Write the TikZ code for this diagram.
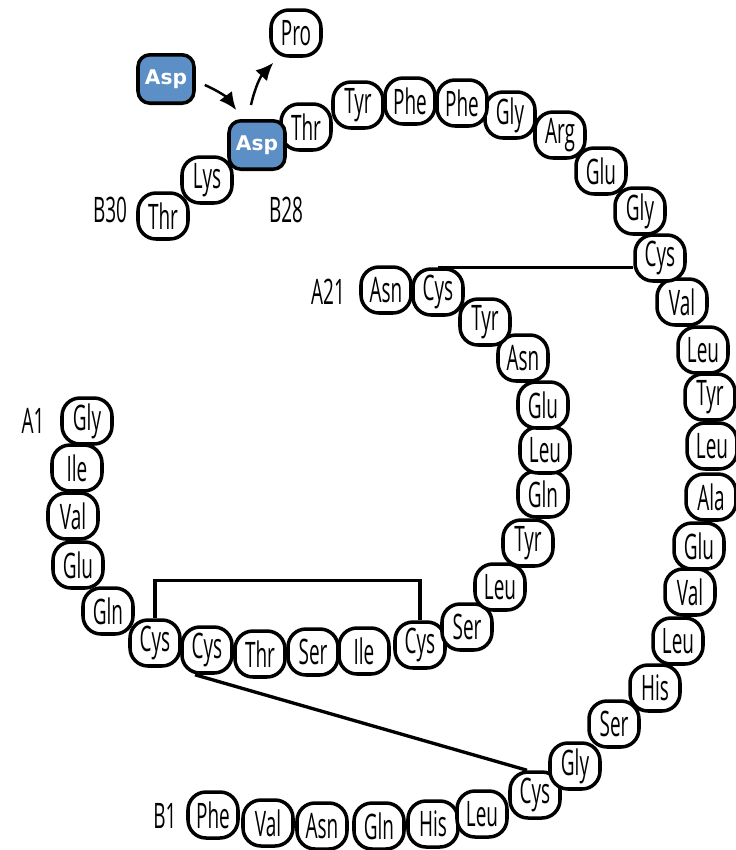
\documentclass[tikz,border=0pt]{standalone}
\usepackage{fontspec}
\setmainfont{Open Sans}[FakeStretch=0.54]
\newfontfamily\mutfont{DejaVu Sans}
\usetikzlibrary{arrows.meta}
\definecolor{aspblue}{RGB}{92,143,198}

\begin{document}
\begin{tikzpicture}[x=0.02cm, y=-0.02cm,
    res/.style={draw, line width=2pt, rounded corners=0.36cm, fill=white, minimum width=1cm, minimum height=0.92cm, inner sep=0pt, font=\fontsize{20}{20}\selectfont},
    mut/.style={res, fill=aspblue, rounded corners=0.24cm, minimum width=1.12cm, minimum height=0.97cm, text=white, font=\mutfont\bfseries\fontsize{11.5}{12}\selectfont},
    tag/.style={font=\fontsize{20}{20}\selectfont},
    bond/.style={line width=1.9pt},
    arr/.style={-{Latex[length=10pt,width=9pt]}, line width=1.4pt}]
    \useasboundingbox (0,0) rectangle (735,850);

    % B chain
    \node[res] at (213,815) (b1) {Phe};
    \node[res] at (268,823) (b2) {Val};
    \node[res] at (322,826) (b3) {Asn};
    \node[res] at (379,826) (b4) {Gln};
    \node[res] at (433,824) (b5) {His};
    \node[res] at (482,814) (b6) {Leu};
    \node[res] at (535,795) (b7) {Cys};
    \node[res] at (575,766) (b8) {Gly};
    \node[res] at (614,724) (b9) {Ser};
    \node[res] at (655,688) (b10) {His};
    \node[res] at (678,641) (b11) {Leu};
    \node[res] at (690,592) (b12) {Val};
    \node[res] at (699,546) (b13) {Glu};
    \node[res] at (711,497) (b14) {Ala};
    \node[res] at (712,446) (b15) {Leu};
    \node[res] at (710,397) (b16) {Tyr};
    \node[res] at (703,350) (b17) {Leu};
    \node[res] at (682,302) (b18) {Val};
    \node[res] at (660,258) (b19) {Cys};
    \node[res] at (640,211) (b20) {Gly};
    \node[res] at (601,171) (b21) {Glu};
    \node[res] at (560,135) (b22) {Arg};
    \node[res] at (510,115) (b23) {Gly};
    \node[res] at (462,103) (b24) {Phe};
    \node[res] at (410,101) (b25) {Phe};
    \node[res] at (358,105) (b26) {Tyr};
    \node[res] at (306,127) (b27) {Thr};
    \node[mut] at (257,145) (b28) {Asp};
    \node[res] at (207,180) (b29) {Lys};
    \node[res] at (163,216) (b30) {Thr};

    % A chain
    \node[res] at (87,421) (a1) {Gly};
    \node[res] at (77,468) (a2) {Ile};
    \node[res] at (73,516) (a3) {Val};
    \node[res] at (78,565) (a4) {Glu};
    \node[res] at (108,611) (a5) {Gln};
    \node[res] at (155,643) (a6) {Cys};
    \node[res] at (207,650) (a7) {Cys};
    \node[res] at (260,654) (a8) {Thr};
    \node[res] at (313,652) (a9) {Ser};
    \node[res] at (364,651) (a10) {Ile};
    \node[res] at (420,645) (a11) {Cys};
    \node[res] at (467,627) (a12) {Ser};
    \node[res] at (500,587) (a13) {Leu};
    \node[res] at (528,543) (a14) {Tyr};
    \node[res] at (543,494) (a15) {Gln};
    \node[res] at (545,450) (a16) {Leu};
    \node[res] at (543,405) (a17) {Glu};
    \node[res] at (523,358) (a18) {Asn};
    \node[res] at (485,322) (a19) {Tyr};
    \node[res] at (438,292) (a20) {Cys};
    \node[res] at (386,290) (a21) {Asn};

    % swapped residue
    \node[mut] at (166,79) (asp) {Asp};
    \node[res] at (296,33) (pro) {Pro};

    \node[tag] at (110,210) (lb30) {B30};
    \node[tag] at (286,210) (lb28) {B28};
    \node[tag] at (165,816) (lb1) {B1};
    \node[tag] at (328,292) (la21) {A21};
    \node[tag] at (33,421) (la1) {A1};

    % disulfide bridges
    \draw[bond] (a6.north) -- ++(0,-38) -| (a11.north);
    \draw[bond] (a20.north) -- (a20.north -| b19.west);
    \draw[bond] ([shift={(-12,0)}]a7.south) -- ([shift={(-8,0)}]b7.north);

    \draw[arr] ([shift={(9,6)}]asp.east) to[bend left=15] ([shift={(9,-9)}]b28.north west);
    \draw[arr] ([shift={(-6,-14)}]b28.north) to[bend left=15] ([shift={(4,5)}]pro.south west);
\end{tikzpicture}
\end{document}
